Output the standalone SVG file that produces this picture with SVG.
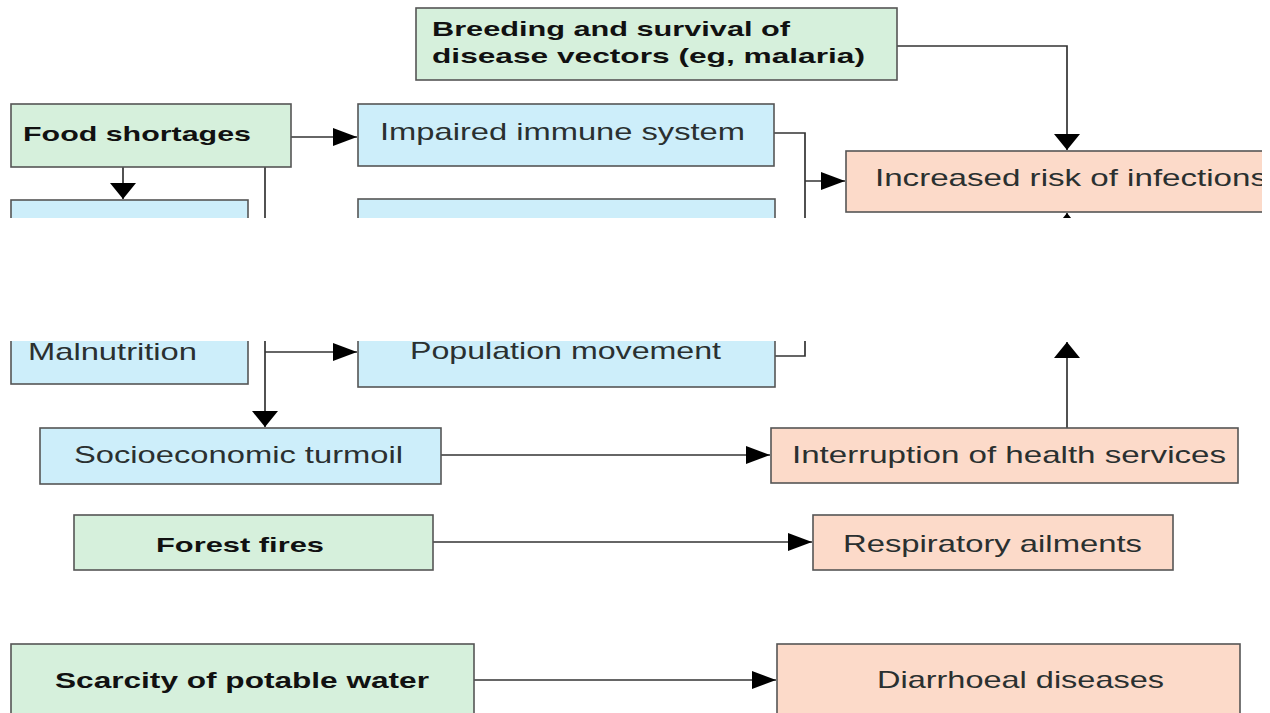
<svg xmlns="http://www.w3.org/2000/svg" width="1270" height="713" viewBox="0 0 1270 713">
  <defs>
    <style>
      .box { stroke: #555; stroke-width: 1.6; }
      .cause { fill: #d6f0dc; }
      .effect { fill: #cdeefa; }
      .outcome { fill: #fcdac9; }
      .lbl { font-family: "Liberation Sans", Arial, sans-serif; font-size: 24px; fill: #2a3030; }
      .big { font-size: 24px; }
      .bold { font-weight: bold; fill: #111; font-size: 21px; }
      .bold.big { font-size: 22px; }
      .link { fill: none; stroke: #333; stroke-width: 1.7; }
    </style>
    <!-- arrowhead for horizontal runs -->
    <marker id="ah" viewBox="0 0 24 18" markerWidth="24" markerHeight="18" refX="24" refY="9" orient="auto" markerUnits="userSpaceOnUse">
      <path d="M0,0 L24,9 L0,18 z" fill="#000"/>
    </marker>
    <!-- arrowhead for vertical runs -->
    <marker id="av" viewBox="0 0 16 26" markerWidth="16" markerHeight="26" refX="16" refY="13" orient="auto" markerUnits="userSpaceOnUse">
      <path d="M0,0 L16,13 L0,26 z" fill="#000"/>
    </marker>
    <clipPath id="rightEdge">
      <rect x="0" y="0" width="1262" height="713"/>
    </clipPath>
  </defs>

  <rect width="1270" height="713" fill="#fff"/>

  <!-- connectors -->
  <g id="connectors">
    <path class="link" d="M291,137 H357" marker-end="url(#ah)"/>
    <path class="link" d="M123,167 V199" marker-end="url(#av)"/>
    <path class="link" d="M265,167 V427" marker-end="url(#av)"/>
    <path class="link" d="M265,352 H357" marker-end="url(#ah)"/>
    <path class="link" d="M774,133 H805 V356 H775"/>
    <path class="link" d="M805,181 H845" marker-end="url(#ah)"/>
    <path class="link" d="M897,46 H1067 V150" marker-end="url(#av)"/>
    <path class="link" d="M1067,428 V342" marker-end="url(#av)"/>
    <path class="link" d="M1067,260 V213" marker-end="url(#av)"/>
    <path class="link" d="M441,455 H770" marker-end="url(#ah)"/>
    <path class="link" d="M433,542 H812" marker-end="url(#ah)"/>
    <path class="link" d="M474,680 H776" marker-end="url(#ah)"/>
  </g>

  <g id="breeding">
    <rect class="box cause" x="416" y="8" width="481" height="72"/>
    <text class="lbl bold" x="432" y="36" textLength="358" lengthAdjust="spacingAndGlyphs">Breeding and survival of</text>
    <text class="lbl bold" x="432" y="63" textLength="433" lengthAdjust="spacingAndGlyphs">disease vectors (eg, malaria)</text>
  </g>

  <g id="food-shortages">
    <rect class="box cause" x="11" y="104" width="280" height="63"/>
    <text class="lbl bold" x="23" y="141" textLength="228" lengthAdjust="spacingAndGlyphs">Food shortages</text>
  </g>

  <g id="impaired-immunity">
    <rect class="box effect" x="358" y="104" width="416" height="62"/>
    <text class="lbl" x="380" y="140" textLength="365" lengthAdjust="spacingAndGlyphs">Impaired immune system</text>
  </g>

  <g id="infection-risk" clip-path="url(#rightEdge)">
    <rect class="box outcome" x="846" y="151" width="460" height="61"/>
    <text class="lbl" x="875" y="186" textLength="392" lengthAdjust="spacingAndGlyphs">Increased risk of infections</text>
  </g>

  <g id="malnutrition">
    <rect class="box effect" x="11" y="200" width="237" height="184"/>
    <text class="lbl" x="28" y="360" textLength="169" lengthAdjust="spacingAndGlyphs">Malnutrition</text>
  </g>

  <g id="population-movement">
    <rect class="box effect" x="358" y="199" width="417" height="188"/>
    <text class="lbl" x="410" y="359" textLength="311" lengthAdjust="spacingAndGlyphs">Population movement</text>
  </g>

  <!-- blank band across the middle -->
  <rect x="0" y="218" width="1270" height="123" fill="#fff"/>

  <g id="socioeconomic">
    <rect class="box effect" x="40" y="428" width="401" height="56"/>
    <text class="lbl" x="74" y="463" textLength="329" lengthAdjust="spacingAndGlyphs">Socioeconomic turmoil</text>
  </g>

  <g id="health-services">
    <rect class="box outcome" x="771" y="428" width="467" height="55"/>
    <text class="lbl" x="792" y="463" textLength="434" lengthAdjust="spacingAndGlyphs">Interruption of health services</text>
  </g>

  <g id="forest-fires">
    <rect class="box cause" x="74" y="515" width="359" height="55"/>
    <text class="lbl bold" x="156" y="552" textLength="168" lengthAdjust="spacingAndGlyphs">Forest fires</text>
  </g>

  <g id="respiratory">
    <rect class="box outcome" x="813" y="515" width="360" height="55"/>
    <text class="lbl big" x="843" y="552" textLength="299" lengthAdjust="spacingAndGlyphs">Respiratory ailments</text>
  </g>

  <g id="water-scarcity">
    <rect class="box cause" x="11" y="644" width="463" height="80"/>
    <text class="lbl bold big" x="55" y="688" textLength="374" lengthAdjust="spacingAndGlyphs">Scarcity of potable water</text>
  </g>

  <g id="diarrhoea">
    <rect class="box outcome" x="777" y="644" width="463" height="80"/>
    <text class="lbl big" x="877" y="688" textLength="287" lengthAdjust="spacingAndGlyphs">Diarrhoeal diseases</text>
  </g>
</svg>
